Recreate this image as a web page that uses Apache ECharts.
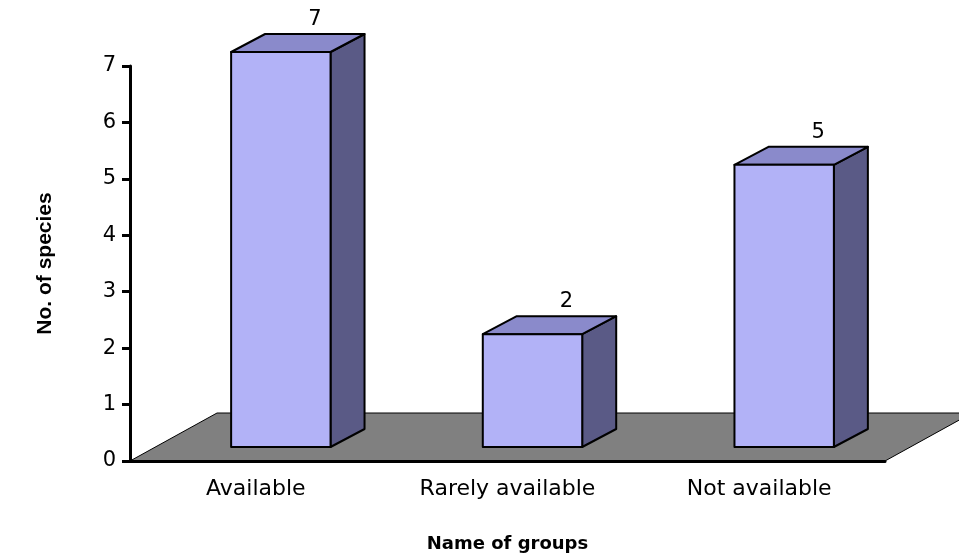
<!DOCTYPE html>
<html>
<head>
<meta charset="utf-8">
<script src="https://cdn.jsdelivr.net/npm/echarts@6/dist/echarts.min.js"></script>
<style>
html, body { margin: 0; padding: 0; background: #fff; }
#chart { width: 959px; height: 555px; }
</style>
</head>
<body>
<div id="chart"></div>
<script>
// data
var groups = ['Available', 'Rarely available', 'Not available'];
var species = [7, 2, 5];
var yTicks = [0, 1, 2, 3, 4, 5, 6, 7];

// 3d look (px)
var floorDepth = [87, -48];
var barShift = [25, -14];
var barDepth = [34, -18];
var font = 'DejaVu Sans';

var myChart = echarts.init(document.getElementById('chart'));

function floorItem(params, api) {
    var cs = params.coordSys;
    var x0 = cs.x, x1 = cs.x + cs.width, y0 = api.coord([0, 0])[1];
    return {
        type: 'polygon',
        shape: {
            points: [[x0, y0], [x0 + floorDepth[0], y0 + floorDepth[1]],
                     [x1 + floorDepth[0], y0 + floorDepth[1]], [x1, y0]]
        },
        style: { fill: '#808080', stroke: '#000', lineWidth: 1 }
    };
}

function barItem(params, api) {
    var i = api.value(0), v = api.value(1);
    var base = api.coord([i, 0]);
    var top = api.coord([i, v]);
    var w = api.size([1, 0])[0] * 0.395;
    var xl = base[0] + barShift[0] - w / 2, xr = xl + w;
    var yb = base[1] + barShift[1], yt = top[1] + barShift[1];
    var dx = barDepth[0], dy = barDepth[1];
    var edge = { stroke: '#000', lineWidth: 2, lineJoin: 'round' };
    return {
        type: 'group',
        children: [
            { type: 'polygon', shape: { points: [[xr, yb], [xr + dx, yb + dy], [xr + dx, yt + dy], [xr, yt]] },
              style: Object.assign({ fill: '#5a5a86' }, edge) },
            { type: 'polygon', shape: { points: [[xl, yt], [xr, yt], [xr + dx, yt + dy], [xl + dx, yt + dy]] },
              style: Object.assign({ fill: '#8a8acb' }, edge) },
            { type: 'rect', shape: { x: xl, y: yt, width: w, height: yb - yt },
              style: Object.assign({ fill: '#b2b2f7' }, edge) },
            { type: 'text', x: (xl + xr) / 2 + dx, y: yt + dy - 4,
              style: { text: String(v), fill: '#000', fontSize: 21, fontFamily: font,
                       align: 'center', verticalAlign: 'bottom' } }
        ]
    };
}

var option = {
    animation: false,
    grid: { left: 130, right: 74, top: 66, bottom: 94, outerBoundsMode: 'none', containLabel: false },
    xAxis: {
        type: 'category',
        data: groups,
        z: 5,
        name: 'Name of groups',
        nameLocation: 'middle',
        nameGap: 74,
        nameTextStyle: { fontSize: 18, fontWeight: 'bold', color: '#000', fontFamily: font },
        axisLine: { lineStyle: { color: '#000', width: 3 } },
        axisTick: { length: 8, lineStyle: { color: '#000', width: 3 } },
        axisLabel: { fontSize: 22, color: '#000', margin: 17, fontFamily: font }
    },
    yAxis: {
        type: 'value',
        min: yTicks[0],
        max: yTicks[yTicks.length - 1],
        interval: 1,
        z: 5,
        name: 'No. of species',
        nameLocation: 'middle',
        nameRotate: 90,
        nameGap: 74,
        nameTextStyle: { fontSize: 21, fontWeight: 'bold', color: '#000', fontFamily: 'Liberation Sans' },
        axisLine: { show: true, lineStyle: { color: '#000', width: 3 } },
        axisTick: { show: true, length: 8, lineStyle: { color: '#000', width: 3 } },
        axisLabel: { fontSize: 21, color: '#000', margin: 14, fontFamily: font },
        splitLine: { show: false }
    },
    series: [
        { type: 'custom', renderItem: floorItem, data: [0], clip: false, z: 1 },
        {
            type: 'custom',
            renderItem: barItem,
            clip: false,
            z: 2,
            data: species.map(function (v, i) { return [i, v]; })
        }
    ]
};
myChart.setOption(option);
</script>
</body>
</html>
